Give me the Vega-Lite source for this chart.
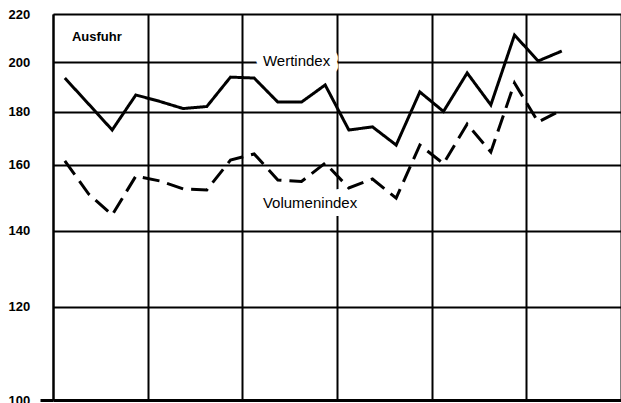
{
  "$schema": "https://vega.github.io/schema/vega-lite/v6.json",
  "width": 568,
  "height": 386,
  "autosize": {"type": "none"},
  "padding": {"left": 53, "top": 14, "right": 0, "bottom": 3},
  "background": "white",
  "config": {"view": {"stroke": null}, "font": "Liberation Sans"},
  "datasets": {
    "series": [
      {"quartal": 0, "reihe": "Wertindex", "index": 193.3},
      {"quartal": 1, "reihe": "Wertindex", "index": 183.0},
      {"quartal": 2, "reihe": "Wertindex", "index": 172.8},
      {"quartal": 3, "reihe": "Wertindex", "index": 186.5},
      {"quartal": 4, "reihe": "Wertindex", "index": 184.0},
      {"quartal": 5, "reihe": "Wertindex", "index": 181.2},
      {"quartal": 6, "reihe": "Wertindex", "index": 182.0},
      {"quartal": 7, "reihe": "Wertindex", "index": 193.7},
      {"quartal": 8, "reihe": "Wertindex", "index": 193.3},
      {"quartal": 9, "reihe": "Wertindex", "index": 183.7},
      {"quartal": 10, "reihe": "Wertindex", "index": 183.7},
      {"quartal": 11, "reihe": "Wertindex", "index": 190.5},
      {"quartal": 12, "reihe": "Wertindex", "index": 172.8},
      {"quartal": 13, "reihe": "Wertindex", "index": 174.0},
      {"quartal": 14, "reihe": "Wertindex", "index": 167.1},
      {"quartal": 15, "reihe": "Wertindex", "index": 187.7},
      {"quartal": 16, "reihe": "Wertindex", "index": 180.1},
      {"quartal": 17, "reihe": "Wertindex", "index": 195.4},
      {"quartal": 18, "reihe": "Wertindex", "index": 182.6},
      {"quartal": 19, "reihe": "Wertindex", "index": 211.0},
      {"quartal": 20, "reihe": "Wertindex", "index": 200.4},
      {"quartal": 21, "reihe": "Wertindex", "index": 204.4},
      {"quartal": 0, "reihe": "Volumenindex", "index": 161.3},
      {"quartal": 1, "reihe": "Volumenindex", "index": 150.8},
      {"quartal": 2, "reihe": "Volumenindex", "index": 144.5},
      {"quartal": 3, "reihe": "Volumenindex", "index": 156.3},
      {"quartal": 4, "reihe": "Volumenindex", "index": 154.8},
      {"quartal": 5, "reihe": "Volumenindex", "index": 152.3},
      {"quartal": 6, "reihe": "Volumenindex", "index": 152.0},
      {"quartal": 7, "reihe": "Volumenindex", "index": 161.6},
      {"quartal": 8, "reihe": "Volumenindex", "index": 163.8},
      {"quartal": 9, "reihe": "Volumenindex", "index": 155.1},
      {"quartal": 10, "reihe": "Volumenindex", "index": 154.6},
      {"quartal": 11, "reihe": "Volumenindex", "index": 160.5},
      {"quartal": 12, "reihe": "Volumenindex", "index": 152.6},
      {"quartal": 13, "reihe": "Volumenindex", "index": 155.4},
      {"quartal": 14, "reihe": "Volumenindex", "index": 149.5},
      {"quartal": 15, "reihe": "Volumenindex", "index": 167.1},
      {"quartal": 16, "reihe": "Volumenindex", "index": 160.3},
      {"quartal": 17, "reihe": "Volumenindex", "index": 175.1},
      {"quartal": 18, "reihe": "Volumenindex", "index": 164.5},
      {"quartal": 19, "reihe": "Volumenindex", "index": 191.3},
      {"quartal": 20, "reihe": "Volumenindex", "index": 175.9},
      {"quartal": 21, "reihe": "Volumenindex", "index": 180.7}
    ],
    "reihenlabels": [
      {"quartal": 8.37, "index": 200.2, "text": "Wertindex"},
      {"quartal": 8.37, "index": 148.0, "text": "Volumenindex"}
    ],
    "titel": [
      {"quartal": 0.3, "index": 210.2, "text": "Ausfuhr"}
    ]
  },
  "encoding": {
    "x": {
      "field": "quartal",
      "type": "quantitative",
      "scale": {"domain": [-0.5, 23.5], "nice": false, "zero": false},
      "axis": {
        "values": [-0.5, 3.5, 7.5, 11.5, 15.5, 19.5, 23.5],
        "grid": true,
        "gridColor": "black",
        "gridOpacity": 1,
        "gridWidth": 2,
        "labels": false,
        "ticks": false,
        "domain": false,
        "title": null
      }
    },
    "y": {
      "field": "index",
      "type": "quantitative",
      "scale": {
        "type": "log",
        "domain": [100, 120, 140, 160, 180, 200, 220],
        "range": [386, 292.7, 216.7, 150.5, 97.7, 48, 0],
        "nice": false
      },
      "axis": {
        "values": [100, 120, 140, 160, 180, 200, 220],
        "grid": true,
        "gridColor": "black",
        "gridOpacity": 1,
        "gridWidth": {"condition": {"test": "datum.value === 100", "value": 3}, "value": 2},
        "domain": true,
        "domainColor": "black",
        "domainWidth": 2,
        "ticks": true,
        "tickSize": 13,
        "tickWidth": 3,
        "tickColor": {"condition": {"test": "datum.value === 100", "value": "black"}, "value": "transparent"},
        "labelAlign": "left",
        "labelBaseline": "middle",
        "labelPadding": 32,
        "labelFont": "Liberation Sans",
        "labelFontSize": 13,
        "labelFontWeight": "bold",
        "labelColor": "black",
        "labelOverlap": false,
        "labelFlush": false,
        "labelBound": false,
        "title": null
      }
    }
  },
  "layer": [
    {
      "data": {"name": "reihenlabels"},
      "mark": {
        "type": "text",
        "align": "left",
        "baseline": "middle",
        "font": "Liberation Sans",
        "fontSize": 15,
        "fill": "white",
        "stroke": "white",
        "strokeWidth": 16,
        "strokeJoin": "round"
      },
      "encoding": {"text": {"field": "text"}}
    },
    {
      "data": {"name": "series"},
      "mark": {"type": "line", "color": "black", "strokeWidth": 3, "strokeJoin": "miter"},
      "encoding": {
        "detail": {"field": "reihe"},
        "strokeDash": {
          "field": "reihe",
          "type": "nominal",
          "scale": {"domain": ["Wertindex", "Volumenindex"], "range": [[1, 0], [17, 8]]},
          "legend": null
        }
      }
    },
    {
      "data": {"name": "reihenlabels"},
      "mark": {
        "type": "text",
        "align": "left",
        "baseline": "middle",
        "font": "Liberation Sans",
        "fontSize": 15,
        "color": "black"
      },
      "encoding": {"text": {"field": "text"}}
    },
    {
      "data": {"name": "titel"},
      "mark": {
        "type": "text",
        "align": "left",
        "baseline": "middle",
        "font": "Liberation Sans",
        "fontSize": 13,
        "fontWeight": "bold",
        "color": "black"
      },
      "encoding": {"text": {"field": "text"}}
    }
  ]
}
